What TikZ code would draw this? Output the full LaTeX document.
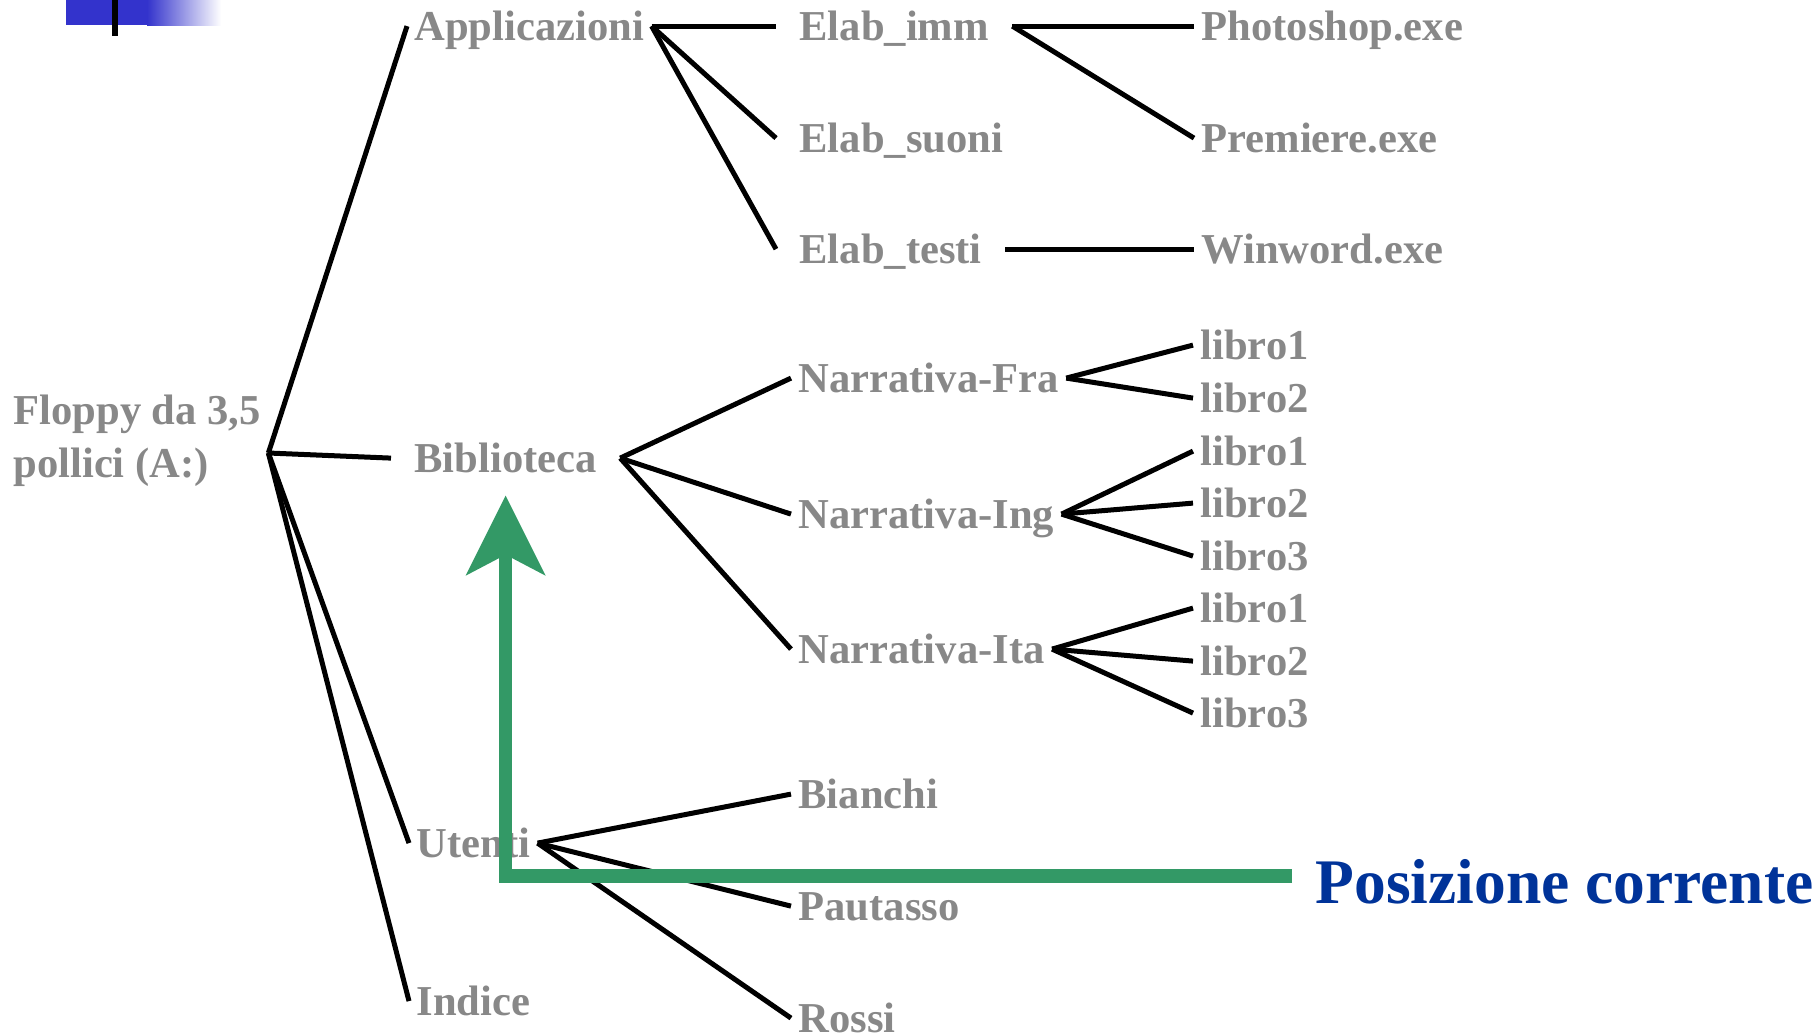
\documentclass[tikz,border=0pt]{standalone}
\usepackage{fontspec}
\setmainfont{Liberation Serif}
\usetikzlibrary{arrows.meta}
\definecolor{dirgray}{RGB}{136,136,136}
\definecolor{curgreen}{RGB}{51,153,102}
\definecolor{curblue}{RGB}{0,51,153}
\definecolor{barblue}{RGB}{51,51,204}

\begin{document}
\begin{tikzpicture}[x=0.5pt,y=-0.5pt,line width=2.5pt,
  lbl/.style={inner xsep=2.5pt,inner ysep=0pt,text=dirgray,font=\bfseries\fontsize{21.3pt}{26.5pt}\selectfont},
  dir/.style={lbl,anchor=base west,text height=16pt,text depth=2.1pt},
  dirwide/.style={dir,inner xsep=10.5pt},
  cur/.style={draw=curgreen,line width=6.75pt,-{Stealth[length=40pt,width=40pt,inset=10.5pt,line width=0pt]},shorten >=8.5pt}]
\useasboundingbox (0,0) rectangle (1814,1034);
% slide bar
\fill[barblue] (66,0) rectangle (147,25);
\shade[left color=barblue,right color=white] (147,0) rectangle (221,25);
\fill[black] (112,0) rectangle (118,36);

\node (floppy) [lbl,anchor=west,align=left] at (6,441) {Floppy da 3,5\\pollici (A:)};
\coordinate (root) at ([yshift=-6pt]floppy.east);
 \node (app) [dir] at (407,40) {Applicazioni};
 \node (bib) [dirwide] at (391,472) {Biblioteca};
 \node (ute) [dir] at (409,857) {Utenti};
 \node (ind) [dir] at (409,1015) {Indice};

  \node (elabimm) [dirwide] at (776,40)  {Elab\_imm};
  \node (elabsuo) [dirwide] at (776,152) {Elab\_suoni};
  \node (elabtes) [dirwide] at (776,263) {Elab\_testi};
  \node (narfra) [dir] at (791,392) {Narrativa-Fra};
  \node (naring) [dir] at (791,528) {Narrativa-Ing};
  \node (narita) [dir] at (791,663) {Narrativa-Ita};
  \node (bia) [dir] at (791,808)  {Bianchi};
  \node (pau) [dir] at (791,920)  {Pautasso};
  \node (ros) [dir] at (791,1032) {Rossi};

	\node (pho) [dir] at (1194,40)  {Photoshop.exe};
	\node (pre) [dir] at (1194,152) {Premiere.exe};
	\node (win) [dir] at (1194,263) {Winword.exe};
	\node (fra1) [dir] at (1193,359) {libro1};
	\node (fra2) [dir] at (1193,412) {libro2};
	\node (ing1) [dir] at (1193,465) {libro1};
	\node (ing2) [dir] at (1193,517) {libro2};
	\node (ing3) [dir] at (1193,570) {libro3};
	\node (ita1) [dir] at (1193,622) {libro1};
	\node (ita2) [dir] at (1193,675) {libro2};
	\node (ita3) [dir] at (1193,727) {libro3};

\node (pos) [anchor=west,inner xsep=10.5pt,inner ysep=0pt,text height=27pt,text depth=0pt,text=curblue,
  font=\bfseries\fontsize{31.75pt}{38pt}\selectfont] at (1292,876) {Posizione corrente};

	\path[-] (root) edge (app.west)
	                edge (bib.west)
	                edge (ute.west)
	                edge (ind.west)
	         (app.east) edge (elabimm.west)
	                    edge (elabsuo.west)
	                    edge (elabtes.west)
	         (elabimm.east) edge (pho.west)
	                        edge (pre.west)
	         (elabtes.east) edge (win.west)
	         (bib.east) edge (narfra.west)
	                    edge (naring.west)
	                    edge (narita.west)
	         (narfra.east) edge (fra1.west)
	                       edge (fra2.west)
	         (naring.east) edge (ing1.west)
	                       edge (ing2.west)
	                       edge (ing3.west)
	         (narita.east) edge (ita1.west)
	                       edge (ita2.west)
	                       edge (ita3.west)
	         (ute.east) edge (bia.west)
	                    edge (pau.west)
	                    edge (ros.west);

\draw[cur] (pos.west) -| (bib.south);
\end{tikzpicture}
\end{document}
